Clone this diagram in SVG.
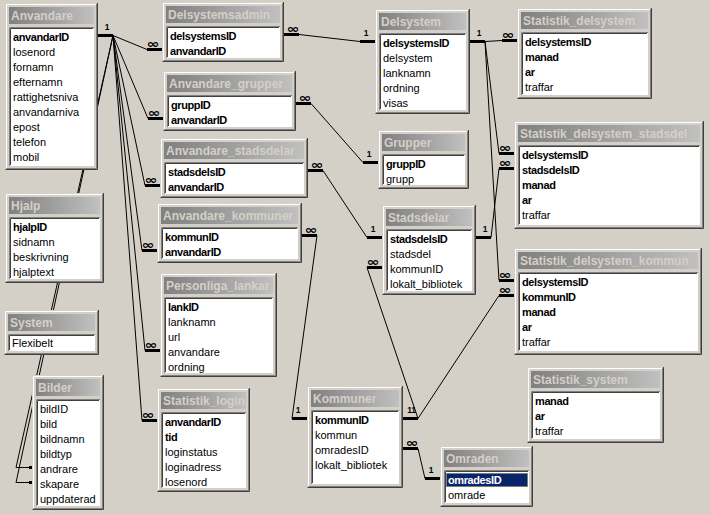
<svg xmlns="http://www.w3.org/2000/svg" width="710" height="514" viewBox="0 0 710 514">
<defs>
<linearGradient id="tg" x1="0" y1="0" x2="1" y2="0"><stop offset="0" stop-color="#808080"/><stop offset="1" stop-color="#C0C0C0"/></linearGradient>
<style>
.win{fill:#D4D0C8}
.hi{fill:none;stroke:#FFFFFF}
.sd{fill:none;stroke:#404040}
.sm{fill:none;stroke:#808080}
.tb{fill:url(#tg)}
.tt{font-family:"Liberation Sans",Arial,sans-serif;font-size:12px;font-weight:bold;fill:#D4D0C8}
.lb{fill:#FFFFFF}
.f{font-family:"Liberation Sans",Arial,sans-serif;font-size:11px;fill:#000}
.b{font-weight:bold;letter-spacing:-0.4px}
.ln{fill:none;stroke:#000;stroke-width:1}
.st{stroke:#000;stroke-width:3}
.one{font-family:"Liberation Sans",Arial,sans-serif;font-size:8.5px;font-weight:bold;text-anchor:middle;fill:#000}
.many{font-family:"DejaVu Sans",sans-serif;font-size:12px;font-weight:bold;text-anchor:middle;fill:#000}
</style>
</defs>
<rect width="710" height="514" fill="#D4D0C8"/>
<g id="connectors">
<path class="ln" d="M113 35.5L147 49.5"/>
<path class="ln" d="M113 35.5L148 118.5"/>
<path class="ln" d="M113 35.5L145 185.5"/>
<path class="ln" d="M113 35.5L142 250.5"/>
<path class="ln" d="M113 35.5L145 350.5"/>
<path class="ln" d="M113 35.5L142 420.5"/>
<path class="ln" d="M113 35.5L16 467.5H30"/>
<path class="ln" d="M113 35.5L16 482.5H30"/>
<path class="ln" d="M299 34.5L360 41.5"/>
<path class="ln" d="M311 103.5L363 162.5"/>
<path class="ln" d="M323 170.5L367 237.5"/>
<path class="ln" d="M317 235.5L292 418.5"/>
<path class="ln" d="M367 267.5L418 418.5"/>
<path class="ln" d="M499 295.5L418 418.5"/>
<path class="ln" d="M418 448.5L425 478.5"/>
<path class="ln" d="M485 41.5L502 40.5"/>
<path class="ln" d="M485 41.5L499 153.5"/>
<path class="ln" d="M485 41.5L499 280.5"/>
<path class="ln" d="M491 237.5L499 168.5"/>
<path class="st" d="M98 35.5H113M147 49.5H162M148 118.5H163M145 185.5H160M142 250.5H157M145 350.5H160M142 420.5H157M29 467.5H32M29 482.5H32M284 34.5H299M360 41.5H375M296 103.5H311M363 162.5H378M308 170.5H323M367 237.5H382M302 235.5H317M292 418.5H307M367 267.5H382M403 418.5H418M499 295.5H514M403 448.5H418M425 478.5H440M470 41.5H485M502 40.5H517M499 153.5H514M499 168.5H514M499 280.5H514M476 237.5H491"/>
<text class="one" x="107" y="29.5">1</text>
<text class="many" x="153" y="48" textLength="13" lengthAdjust="spacingAndGlyphs">∞</text>
<text class="many" x="154" y="117" textLength="13" lengthAdjust="spacingAndGlyphs">∞</text>
<text class="many" x="151" y="184" textLength="13" lengthAdjust="spacingAndGlyphs">∞</text>
<text class="many" x="148" y="249" textLength="13" lengthAdjust="spacingAndGlyphs">∞</text>
<text class="many" x="151" y="349" textLength="13" lengthAdjust="spacingAndGlyphs">∞</text>
<text class="many" x="148" y="419" textLength="13" lengthAdjust="spacingAndGlyphs">∞</text>
<text class="many" x="293" y="33" textLength="13" lengthAdjust="spacingAndGlyphs">∞</text>
<text class="one" x="366" y="35.5">1</text>
<text class="many" x="305" y="102" textLength="13" lengthAdjust="spacingAndGlyphs">∞</text>
<text class="one" x="369" y="156.5">1</text>
<text class="many" x="317" y="169" textLength="13" lengthAdjust="spacingAndGlyphs">∞</text>
<text class="one" x="373" y="231.5">1</text>
<text class="many" x="311" y="234" textLength="13" lengthAdjust="spacingAndGlyphs">∞</text>
<text class="one" x="298" y="412.5">1</text>
<text class="many" x="373" y="266" textLength="13" lengthAdjust="spacingAndGlyphs">∞</text>
<text class="one" x="409.5" y="412.5">1</text>
<text class="one" x="413.5" y="412.5">1</text>
<text class="many" x="505" y="294" textLength="13" lengthAdjust="spacingAndGlyphs">∞</text>
<text class="many" x="412" y="447" textLength="13" lengthAdjust="spacingAndGlyphs">∞</text>
<text class="one" x="431" y="472.5">1</text>
<text class="one" x="479" y="35.5">1</text>
<text class="many" x="508" y="39" textLength="13" lengthAdjust="spacingAndGlyphs">∞</text>
<text class="many" x="505" y="152" textLength="13" lengthAdjust="spacingAndGlyphs">∞</text>
<text class="many" x="505" y="167" textLength="13" lengthAdjust="spacingAndGlyphs">∞</text>
<text class="many" x="505" y="279" textLength="13" lengthAdjust="spacingAndGlyphs">∞</text>
<text class="one" x="485" y="231.5">1</text>
</g>

<g id="t-anvandare" transform="translate(5,3)">
<rect class="win" width="93" height="167"/>
<path class="hi" d="M1.5 165V1.5H91"/><path class="sd" d="M0.5 166.5H92.5V0"/><path class="sm" d="M1.5 165.5H91.5V1"/>
<rect class="tb" x="4" y="4" width="85" height="17"/>
<text class="tt" x="6" y="17">Anvandare</text>
<rect class="lb" x="4" y="24" width="85" height="139"/>
<path class="sm" d="M4.5 163V24.5H89"/><path class="sd" d="M5.5 162V25.5H88"/>
<text class="f b" x="8" y="38">anvandarID</text>
<text class="f" x="8" y="53">losenord</text>
<text class="f" x="8" y="68">fornamn</text>
<text class="f" x="8" y="83">efternamn</text>
<text class="f" x="8" y="98">rattighetsniva</text>
<text class="f" x="8" y="113">anvandarniva</text>
<text class="f" x="8" y="128">epost</text>
<text class="f" x="8" y="143">telefon</text>
<text class="f" x="8" y="158">mobil</text>
</g>

<g id="t-delsystemsadmin" transform="translate(162,2)">
<rect class="win" width="122" height="60"/>
<path class="hi" d="M1.5 58V1.5H120"/><path class="sd" d="M0.5 59.5H121.5V0"/><path class="sm" d="M1.5 58.5H120.5V1"/>
<rect class="tb" x="4" y="4" width="114" height="17"/>
<text class="tt" x="6" y="17">Delsystemsadmin</text>
<rect class="lb" x="4" y="24" width="114" height="32"/>
<path class="sm" d="M4.5 56V24.5H118"/><path class="sd" d="M5.5 55V25.5H117"/>
<text class="f b" x="8" y="38">delsystemsID</text>
<text class="f b" x="8" y="53">anvandarID</text>
</g>

<g id="t-anvandare-grupper" transform="translate(163,71)">
<rect class="win" width="133" height="60"/>
<path class="hi" d="M1.5 58V1.5H131"/><path class="sd" d="M0.5 59.5H132.5V0"/><path class="sm" d="M1.5 58.5H131.5V1"/>
<rect class="tb" x="4" y="4" width="125" height="17"/>
<text class="tt" x="6" y="17">Anvandare_grupper</text>
<rect class="lb" x="4" y="24" width="125" height="32"/>
<path class="sm" d="M4.5 56V24.5H129"/><path class="sd" d="M5.5 55V25.5H128"/>
<text class="f b" x="8" y="38">gruppID</text>
<text class="f b" x="8" y="53">anvandarID</text>
</g>

<g id="t-anvandare-stadsdelar" transform="translate(160,138)">
<rect class="win" width="148" height="60"/>
<path class="hi" d="M1.5 58V1.5H146"/><path class="sd" d="M0.5 59.5H147.5V0"/><path class="sm" d="M1.5 58.5H146.5V1"/>
<rect class="tb" x="4" y="4" width="140" height="17"/>
<text class="tt" x="6" y="17">Anvandare_stadsdelar</text>
<rect class="lb" x="4" y="24" width="140" height="32"/>
<path class="sm" d="M4.5 56V24.5H144"/><path class="sd" d="M5.5 55V25.5H143"/>
<text class="f b" x="8" y="38">stadsdelsID</text>
<text class="f b" x="8" y="53">anvandarID</text>
</g>

<g id="t-anvandare-kommuner" transform="translate(157,203)">
<rect class="win" width="145" height="60"/>
<path class="hi" d="M1.5 58V1.5H143"/><path class="sd" d="M0.5 59.5H144.5V0"/><path class="sm" d="M1.5 58.5H143.5V1"/>
<rect class="tb" x="4" y="4" width="137" height="17"/>
<text class="tt" x="6" y="17">Anvandare_kommuner</text>
<rect class="lb" x="4" y="24" width="137" height="32"/>
<path class="sm" d="M4.5 56V24.5H141"/><path class="sd" d="M5.5 55V25.5H140"/>
<text class="f b" x="8" y="38">kommunID</text>
<text class="f b" x="8" y="53">anvandarID</text>
</g>

<g id="t-personliga-lankar" transform="translate(160,273)">
<rect class="win" width="117" height="104"/>
<path class="hi" d="M1.5 102V1.5H115"/><path class="sd" d="M0.5 103.5H116.5V0"/><path class="sm" d="M1.5 102.5H115.5V1"/>
<rect class="tb" x="4" y="4" width="109" height="17"/>
<text class="tt" x="6" y="17">Personliga_lankar</text>
<rect class="lb" x="4" y="24" width="109" height="76"/>
<path class="sm" d="M4.5 100V24.5H113"/><path class="sd" d="M5.5 99V25.5H112"/>
<text class="f b" x="8" y="38">lankID</text>
<text class="f" x="8" y="53">lanknamn</text>
<text class="f" x="8" y="68">url</text>
<text class="f" x="8" y="83">anvandare</text>
<text class="f" x="8" y="98">ordning</text>
</g>

<g id="t-statistik-login" transform="translate(157,388)">
<rect class="win" width="93" height="104"/>
<path class="hi" d="M1.5 102V1.5H91"/><path class="sd" d="M0.5 103.5H92.5V0"/><path class="sm" d="M1.5 102.5H91.5V1"/>
<rect class="tb" x="4" y="4" width="85" height="17"/>
<text class="tt" x="6" y="17">Statistik_login</text>
<rect class="lb" x="4" y="24" width="85" height="76"/>
<path class="sm" d="M4.5 100V24.5H89"/><path class="sd" d="M5.5 99V25.5H88"/>
<text class="f b" x="8" y="38">anvandarID</text>
<text class="f b" x="8" y="53">tid</text>
<text class="f" x="8" y="68">loginstatus</text>
<text class="f" x="8" y="83">loginadress</text>
<text class="f" x="8" y="98">losenord</text>
</g>

<g id="t-hjalp" transform="translate(5,193)">
<rect class="win" width="99" height="90"/>
<path class="hi" d="M1.5 88V1.5H97"/><path class="sd" d="M0.5 89.5H98.5V0"/><path class="sm" d="M1.5 88.5H97.5V1"/>
<rect class="tb" x="4" y="4" width="91" height="17"/>
<text class="tt" x="6" y="17">Hjalp</text>
<rect class="lb" x="4" y="24" width="91" height="62"/>
<path class="sm" d="M4.5 86V24.5H95"/><path class="sd" d="M5.5 85V25.5H94"/>
<text class="f b" x="8" y="38">hjalpID</text>
<text class="f" x="8" y="53">sidnamn</text>
<text class="f" x="8" y="68">beskrivning</text>
<text class="f" x="8" y="83">hjalptext</text>
</g>

<g id="t-system" transform="translate(4,310)">
<rect class="win" width="95" height="45"/>
<path class="hi" d="M1.5 43V1.5H93"/><path class="sd" d="M0.5 44.5H94.5V0"/><path class="sm" d="M1.5 43.5H93.5V1"/>
<rect class="tb" x="4" y="4" width="87" height="17"/>
<text class="tt" x="6" y="17">System</text>
<rect class="lb" x="4" y="24" width="87" height="17"/>
<path class="sm" d="M4.5 41V24.5H91"/><path class="sd" d="M5.5 40V25.5H90"/>
<text class="f" x="8" y="37">Flexibelt</text>
</g>

<g id="t-bilder" transform="translate(32,375)">
<rect class="win" width="72" height="135"/>
<path class="hi" d="M1.5 133V1.5H70"/><path class="sd" d="M0.5 134.5H71.5V0"/><path class="sm" d="M1.5 133.5H70.5V1"/>
<rect class="tb" x="4" y="4" width="64" height="17"/>
<text class="tt" x="6" y="17">Bilder</text>
<rect class="lb" x="4" y="24" width="64" height="107"/>
<path class="sm" d="M4.5 131V24.5H68"/><path class="sd" d="M5.5 130V25.5H67"/>
<text class="f" x="8" y="38">bildID</text>
<text class="f" x="8" y="53">bild</text>
<text class="f" x="8" y="68">bildnamn</text>
<text class="f" x="8" y="83">bildtyp</text>
<text class="f" x="8" y="98">andrare</text>
<text class="f" x="8" y="113">skapare</text>
<text class="f" x="8" y="128">uppdaterad</text>
</g>

<g id="t-delsystem" transform="translate(375,9)">
<rect class="win" width="95" height="105"/>
<path class="hi" d="M1.5 103V1.5H93"/><path class="sd" d="M0.5 104.5H94.5V0"/><path class="sm" d="M1.5 103.5H93.5V1"/>
<rect class="tb" x="4" y="4" width="87" height="17"/>
<text class="tt" x="6" y="17">Delsystem</text>
<rect class="lb" x="4" y="24" width="87" height="77"/>
<path class="sm" d="M4.5 101V24.5H91"/><path class="sd" d="M5.5 100V25.5H90"/>
<text class="f b" x="8" y="38">delsystemsID</text>
<text class="f" x="8" y="53">delsystem</text>
<text class="f" x="8" y="68">lanknamn</text>
<text class="f" x="8" y="83">ordning</text>
<text class="f" x="8" y="98">visas</text>
</g>

<g id="t-grupper" transform="translate(378,130)">
<rect class="win" width="91" height="59"/>
<path class="hi" d="M1.5 57V1.5H89"/><path class="sd" d="M0.5 58.5H90.5V0"/><path class="sm" d="M1.5 57.5H89.5V1"/>
<rect class="tb" x="4" y="4" width="83" height="17"/>
<text class="tt" x="6" y="17">Grupper</text>
<rect class="lb" x="4" y="24" width="83" height="31"/>
<path class="sm" d="M4.5 55V24.5H87"/><path class="sd" d="M5.5 54V25.5H86"/>
<text class="f b" x="8" y="38">gruppID</text>
<text class="f" x="8" y="53">grupp</text>
</g>

<g id="t-stadsdelar" transform="translate(382,205)">
<rect class="win" width="94" height="90"/>
<path class="hi" d="M1.5 88V1.5H92"/><path class="sd" d="M0.5 89.5H93.5V0"/><path class="sm" d="M1.5 88.5H92.5V1"/>
<rect class="tb" x="4" y="4" width="86" height="17"/>
<text class="tt" x="6" y="17">Stadsdelar</text>
<rect class="lb" x="4" y="24" width="86" height="62"/>
<path class="sm" d="M4.5 86V24.5H90"/><path class="sd" d="M5.5 85V25.5H89"/>
<text class="f b" x="8" y="38">stadsdelsID</text>
<text class="f" x="8" y="53">stadsdel</text>
<text class="f" x="8" y="68">kommunID</text>
<text class="f" x="8" y="83">lokalt_bibliotek</text>
</g>

<g id="t-statistik-delsystem" transform="translate(517,8)">
<rect class="win" width="135" height="91"/>
<path class="hi" d="M1.5 89V1.5H133"/><path class="sd" d="M0.5 90.5H134.5V0"/><path class="sm" d="M1.5 89.5H133.5V1"/>
<rect class="tb" x="4" y="4" width="127" height="17"/>
<text class="tt" x="6" y="17">Statistik_delsystem</text>
<rect class="lb" x="4" y="24" width="127" height="63"/>
<path class="sm" d="M4.5 87V24.5H131"/><path class="sd" d="M5.5 86V25.5H130"/>
<text class="f b" x="8" y="38">delsystemsID</text>
<text class="f b" x="8" y="53">manad</text>
<text class="f b" x="8" y="68">ar</text>
<text class="f" x="8" y="83">traffar</text>
</g>

<g id="t-statistik-delsystem-stadsdel" transform="translate(514,121)">
<rect class="win" width="190" height="108"/>
<path class="hi" d="M1.5 106V1.5H188"/><path class="sd" d="M0.5 107.5H189.5V0"/><path class="sm" d="M1.5 106.5H188.5V1"/>
<rect class="tb" x="4" y="4" width="182" height="17"/>
<text class="tt" x="6" y="17">Statistik_delsystem_stadsdel</text>
<rect class="lb" x="4" y="24" width="182" height="80"/>
<path class="sm" d="M4.5 104V24.5H186"/><path class="sd" d="M5.5 103V25.5H185"/>
<text class="f b" x="8" y="38">delsystemsID</text>
<text class="f b" x="8" y="53">stadsdelsID</text>
<text class="f b" x="8" y="68">manad</text>
<text class="f b" x="8" y="83">ar</text>
<text class="f" x="8" y="98">traffar</text>
</g>

<g id="t-statistik-delsystem-kommun" transform="translate(514,248)">
<rect class="win" width="188" height="107"/>
<path class="hi" d="M1.5 105V1.5H186"/><path class="sd" d="M0.5 106.5H187.5V0"/><path class="sm" d="M1.5 105.5H186.5V1"/>
<rect class="tb" x="4" y="4" width="180" height="17"/>
<text class="tt" x="6" y="17">Statistik_delsystem_kommun</text>
<rect class="lb" x="4" y="24" width="180" height="79"/>
<path class="sm" d="M4.5 103V24.5H184"/><path class="sd" d="M5.5 102V25.5H183"/>
<text class="f b" x="8" y="38">delsystemsID</text>
<text class="f b" x="8" y="53">kommunID</text>
<text class="f b" x="8" y="68">manad</text>
<text class="f b" x="8" y="83">ar</text>
<text class="f" x="8" y="98">traffar</text>
</g>

<g id="t-statistik-system" transform="translate(527,367)">
<rect class="win" width="137" height="76"/>
<path class="hi" d="M1.5 74V1.5H135"/><path class="sd" d="M0.5 75.5H136.5V0"/><path class="sm" d="M1.5 74.5H135.5V1"/>
<rect class="tb" x="4" y="4" width="129" height="17"/>
<text class="tt" x="6" y="17">Statistik_system</text>
<rect class="lb" x="4" y="24" width="129" height="48"/>
<path class="sm" d="M4.5 72V24.5H133"/><path class="sd" d="M5.5 71V25.5H132"/>
<text class="f b" x="8" y="38">manad</text>
<text class="f b" x="8" y="53">ar</text>
<text class="f" x="8" y="68">traffar</text>
</g>

<g id="t-kommuner" transform="translate(307,386)">
<rect class="win" width="96" height="102"/>
<path class="hi" d="M1.5 100V1.5H94"/><path class="sd" d="M0.5 101.5H95.5V0"/><path class="sm" d="M1.5 100.5H94.5V1"/>
<rect class="tb" x="4" y="4" width="88" height="17"/>
<text class="tt" x="6" y="17">Kommuner</text>
<rect class="lb" x="4" y="24" width="88" height="74"/>
<path class="sm" d="M4.5 98V24.5H92"/><path class="sd" d="M5.5 97V25.5H91"/>
<text class="f b" x="8" y="38">kommunID</text>
<text class="f" x="8" y="53">kommun</text>
<text class="f" x="8" y="68">omradesID</text>
<text class="f" x="8" y="83">lokalt_bibliotek</text>
</g>

<g id="t-omraden" transform="translate(440,446)">
<rect class="win" width="93" height="61"/>
<path class="hi" d="M1.5 59V1.5H91"/><path class="sd" d="M0.5 60.5H92.5V0"/><path class="sm" d="M1.5 59.5H91.5V1"/>
<rect class="tb" x="4" y="4" width="85" height="17"/>
<text class="tt" x="6" y="17">Omraden</text>
<rect class="lb" x="4" y="24" width="85" height="33"/>
<path class="sm" d="M4.5 57V24.5H89"/><path class="sd" d="M5.5 56V25.5H88"/>
<rect x="6" y="27" width="82" height="14" fill="#0A246A"/>
<rect x="6.5" y="27.5" width="81" height="13" fill="none" stroke="#E6D88A" stroke-dasharray="1 1"/>
<text class="f b" x="8" y="38" style="fill:#FFFFFF">omradesID</text>
<text class="f" x="8" y="53">omrade</text>
</g>
</svg>
